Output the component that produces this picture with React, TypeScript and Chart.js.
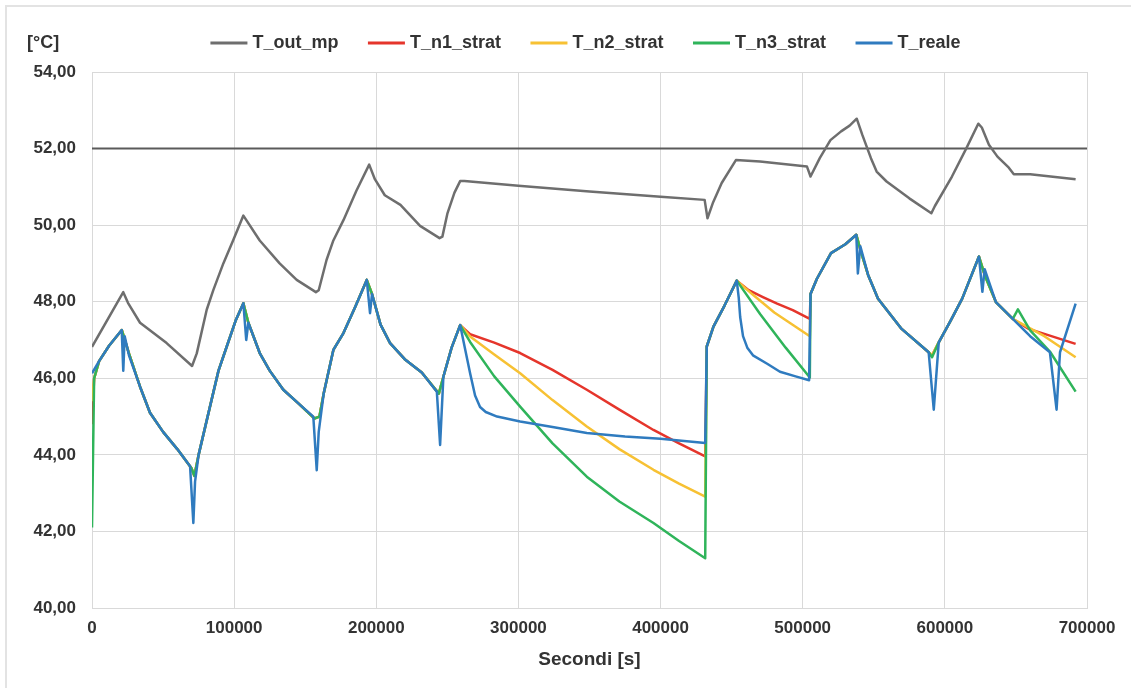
import React, { useEffect, useRef } from "react";
import { Chart, registerables } from "chart.js";

Chart.register(...registerables);

// ---- Data (x in seconds, y in °C) ----
const xTicks = [0, 100000, 200000, 300000, 400000, 500000, 600000, 700000];
const yTicks = [40, 42, 44, 46, 48, 50, 52, 54];
const refLineX = [0, 700000];
const refLineY = [52, 52];

const T_out_mp: [number, number][] = [
  [0, 46.82], [22000, 48.25], [25300, 47.97], [33800, 47.45], [52500, 46.92], [70400, 46.32],
  [73700, 46.65], [80700, 47.79], [85400, 48.31], [92400, 49.0], [99400, 49.61], [106500, 50.25],
  [118000, 49.6], [132000, 49.0], [144000, 48.57], [157500, 48.25], [159500, 48.3], [165000, 49.09],
  [169800, 49.6], [176900, 50.13], [186000, 50.9], [195000, 51.58], [199000, 51.2], [206000, 50.78],
  [217000, 50.53], [230800, 49.98], [244500, 49.66], [246500, 49.7], [250000, 50.3], [255000, 50.85],
  [259000, 51.15], [262000, 51.15], [300000, 51.03], [350000, 50.88], [400000, 50.74], [431000, 50.66],
  [433000, 50.18], [437000, 50.6], [443000, 51.1], [453000, 51.7], [470000, 51.66], [503000, 51.53],
  [505500, 51.27], [512000, 51.75], [519500, 52.22], [527000, 52.45], [533000, 52.6], [538000, 52.78],
  [542000, 52.35], [548000, 51.75], [552000, 51.4], [559000, 51.14], [575000, 50.7], [590500, 50.31],
  [593000, 50.5], [605000, 51.27], [615000, 52.0], [623500, 52.65], [626000, 52.55], [631000, 52.1],
  [637000, 51.79], [645000, 51.5], [648500, 51.33], [660000, 51.33], [692000, 51.2],
];

const T_n1_strat: [number, number][] = [
  [0, 44.8], [1500, 46.0], [5000, 46.45], [12000, 46.85], [21000, 47.26], [26000, 46.65], [33800, 45.78],
  [40800, 45.1], [50000, 44.6], [60000, 44.15], [70000, 43.65], [72000, 43.45], [75000, 44.0], [83000, 45.26],
  [89000, 46.2], [94800, 46.83], [101000, 47.5], [106500, 47.96], [110000, 47.45], [118000, 46.66],
  [125000, 46.2], [134600, 45.7], [145000, 45.35], [156500, 44.95], [160000, 45.0], [163000, 45.6],
  [169800, 46.74], [176900, 47.18], [185000, 47.85], [193300, 48.57], [197000, 48.2], [203000, 47.4],
  [209700, 46.92], [220000, 46.5], [232000, 46.15], [244000, 45.6], [247200, 46.04], [253000, 46.8],
  [259000, 47.39], [266000, 47.15], [283000, 46.93], [301200, 46.66], [324000, 46.22], [348100, 45.7],
  [371000, 45.18], [395000, 44.65], [413000, 44.3], [431400, 43.96],
  [432500, 46.83], [437200, 47.35], [445000, 47.9], [453600, 48.55], [462000, 48.3], [472000, 48.12],
  [482000, 47.95], [493000, 47.78], [505000, 47.55], [505500, 48.2], [510000, 48.6], [519900, 49.27],
  [530000, 49.5], [537700, 49.75], [541000, 49.3], [546000, 48.7], [553000, 48.08], [569600, 47.29],
  [588600, 46.68], [591000, 46.6], [595700, 46.94], [604000, 47.5], [612200, 48.08], [624000, 49.18],
  [628000, 48.7], [635900, 47.99], [647800, 47.55], [659000, 47.29], [692000, 46.9],
];

const T_n2_strat: [number, number][] = [
  [0, 45.4], [1500, 46.0], [5000, 46.45], [12000, 46.85], [21000, 47.26], [26000, 46.65], [33800, 45.78],
  [40800, 45.1], [50000, 44.6], [60000, 44.15], [70000, 43.65], [72000, 43.45], [75000, 44.0], [83000, 45.26],
  [89000, 46.2], [94800, 46.83], [101000, 47.5], [106500, 47.96], [110000, 47.45], [118000, 46.66],
  [125000, 46.2], [134600, 45.7], [145000, 45.35], [156500, 44.95], [160000, 45.0], [163000, 45.6],
  [169800, 46.74], [176900, 47.18], [185000, 47.85], [193300, 48.57], [197000, 48.2], [203000, 47.4],
  [209700, 46.92], [220000, 46.5], [232000, 46.15], [244000, 45.6], [247200, 46.04], [253000, 46.8],
  [259000, 47.39], [266000, 47.09], [283000, 46.62], [301200, 46.13], [324000, 45.43], [348100, 44.74],
  [371000, 44.15], [395000, 43.61], [413000, 43.25], [431400, 42.91],
  [432500, 46.83], [437200, 47.35], [445000, 47.9], [453600, 48.55], [465000, 48.18], [480000, 47.72],
  [505000, 47.1], [505500, 48.2], [510000, 48.6], [519900, 49.27], [530000, 49.5], [537700, 49.75],
  [541000, 49.3], [546000, 48.7], [553000, 48.08], [569600, 47.29], [588600, 46.68], [591000, 46.6],
  [595700, 46.94], [604000, 47.5], [612200, 48.08], [624000, 49.18], [628000, 48.7], [635900, 47.99],
  [647800, 47.55], [670000, 47.1], [692000, 46.55],
];

const T_n3_strat: [number, number][] = [
  [0, 42.1], [1500, 46.0], [5000, 46.45], [12000, 46.85], [21000, 47.26], [26000, 46.65], [33800, 45.78],
  [40800, 45.1], [50000, 44.6], [60000, 44.15], [70000, 43.65], [72000, 43.45], [75000, 44.0], [83000, 45.26],
  [89000, 46.2], [94800, 46.83], [101000, 47.5], [106500, 47.96], [110000, 47.45], [118000, 46.66],
  [125000, 46.2], [134600, 45.7], [145000, 45.35], [156500, 44.95], [160000, 45.0], [163000, 45.6],
  [169800, 46.74], [176900, 47.18], [185000, 47.85], [193300, 48.57], [197000, 48.2], [203000, 47.4],
  [209700, 46.92], [220000, 46.5], [232000, 46.15], [244000, 45.6], [247200, 46.04], [253000, 46.8],
  [259000, 47.39], [266000, 46.95], [283000, 46.05], [301200, 45.26], [324000, 44.3], [348100, 43.43],
  [371000, 42.78], [395000, 42.22], [413000, 41.75], [431400, 41.3],
  [432500, 46.83], [437200, 47.35], [445000, 47.9], [453600, 48.55], [470000, 47.68], [488000, 46.8],
  [505000, 46.02], [505500, 48.2], [510000, 48.6], [519900, 49.27], [530000, 49.5],
  [537700, 49.75], [541000, 49.3], [546000, 48.7], [553000, 48.08], [569600, 47.29], [588600, 46.68],
  [591000, 46.55], [595700, 46.94], [604000, 47.5], [612200, 48.08], [624000, 49.18], [628000, 48.7],
  [635900, 47.99], [647800, 47.55], [651400, 47.8], [660000, 47.25], [673900, 46.7], [692000, 45.65],
];

const T_reale: [number, number][] = [
  [0, 46.13], [5000, 46.45], [12000, 46.85], [20900, 47.26], [22000, 46.2], [23000, 47.1], [26000, 46.6],
  [33800, 45.78], [40800, 45.1], [50000, 44.6], [60000, 44.15], [69000, 43.7], [71300, 42.22], [72500, 43.3],
  [75000, 44.0], [83000, 45.26], [89000, 46.2], [94800, 46.83], [101000, 47.5], [106500, 47.96],
  [108500, 47.0], [110000, 47.45], [118000, 46.66], [125000, 46.2], [134600, 45.7], [145000, 45.35],
  [155700, 45.0], [158100, 43.6], [159500, 44.6], [163000, 45.6], [169800, 46.74], [176900, 47.18],
  [185000, 47.85], [193300, 48.57], [195600, 47.7], [197000, 48.2], [203000, 47.4], [209700, 46.92],
  [220000, 46.5], [232000, 46.15], [242600, 45.65], [244900, 44.26], [247200, 46.04], [253000, 46.8],
  [259000, 47.39], [262000, 46.85], [266000, 46.13], [269500, 45.55], [273000, 45.25], [277000, 45.12],
  [285000, 45.0], [301200, 44.87], [325000, 44.72], [348100, 44.57], [375000, 44.48], [400000, 44.42],
  [431400, 44.31], [432500, 46.83], [437200, 47.35], [445000, 47.9],
  [453600, 48.55], [455000, 48.1], [456000, 47.6], [458000, 47.1], [461000, 46.8], [465000, 46.6],
  [475000, 46.38], [484000, 46.17], [495000, 46.05], [504500, 45.95], [505500, 48.2], [510000, 48.6],
  [519900, 49.27], [530000, 49.5], [537700, 49.75], [538800, 48.74], [540500, 49.45], [546000, 48.7],
  [553000, 48.08], [569600, 47.29], [588600, 46.68], [592200, 45.18], [595700, 46.94], [604000, 47.5],
  [612200, 48.08], [624000, 49.18], [626400, 48.26], [628000, 48.85], [635900, 47.99], [647800, 47.55],
  [660000, 47.1], [673900, 46.68], [678600, 45.18], [681000, 46.68], [692000, 47.95],
];

const FONT = '"Liberation Sans", Arial, sans-serif';
const TEXT = "#333333";

const toPts = (arr: [number, number][]) => arr.map(([x, y]) => ({ x, y }));

const legendPlugin = {
  id: "customLegend",
  afterDraw(chart: any) {
    const { ctx, chartArea } = chart;
    const items = chart.data.datasets.filter((d: any) => !d.hideInLegend);
    ctx.save();
    ctx.font = `bold 18px ${FONT}`;
    ctx.textBaseline = "middle";
    ctx.textAlign = "left";
    const markerW = 37;
    const gap = 5;
    const spacing = 29.5;
    const widths = items.map((d: any) => markerW + gap + ctx.measureText(d.label).width);
    const total = widths.reduce((a: number, b: number) => a + b, 0) + spacing * (items.length - 1);
    const cx = (chartArea.left + chartArea.right) / 2 - 4;
    const y = chartArea.top - 29;
    let x = cx - total / 2;
    items.forEach((d: any, i: number) => {
      ctx.strokeStyle = d.borderColor;
      ctx.lineWidth = 3;
      ctx.beginPath();
      ctx.moveTo(x, y);
      ctx.lineTo(x + markerW, y);
      ctx.stroke();
      ctx.fillStyle = TEXT;
      ctx.fillText(d.label, x + markerW + gap, y);
      x += widths[i] + spacing;
    });
    // unit label
    ctx.fillText("[°C]", chartArea.left - 65, y);
    ctx.restore();
  },
};

export default function App() {
  const canvasRef = useRef<HTMLCanvasElement | null>(null);

  useEffect(() => {
    document.body.style.margin = "0";
    const canvas = canvasRef.current;
    if (!canvas) return;
    const chart = new Chart(canvas, {
      type: "line",
      data: {
        datasets: [
          { label: "T_out_mp", data: toPts(T_out_mp), borderColor: "#6e6e6e", borderWidth: 2.5, order: 4 },
          { label: "T_n1_strat", data: toPts(T_n1_strat), borderColor: "#e5352b", borderWidth: 2.5, order: 3 },
          { label: "T_n2_strat", data: toPts(T_n2_strat), borderColor: "#f7c133", borderWidth: 2.5, order: 2 },
          { label: "T_n3_strat", data: toPts(T_n3_strat), borderColor: "#2fb45a", borderWidth: 2.5, order: 1 },
          { label: "T_reale", data: toPts(T_reale), borderColor: "#2f7bbf", borderWidth: 2.5, order: 0 },
          {
            label: "ref52",
            hideInLegend: true,
            data: refLineX.map((x, i) => ({ x, y: refLineY[i] })),
            borderColor: "#5a5a5a",
            borderWidth: 2,
            order: 5,
          } as any,
        ],
      },
      options: {
        animation: false,
        responsive: true,
        maintainAspectRatio: false,
        elements: {
          point: { radius: 0, hoverRadius: 0 },
          line: { tension: 0, borderJoinStyle: "round", fill: false },
        },
        layout: { padding: { top: 72, right: 44, left: 0, bottom: 0 } },
        plugins: {
          legend: { display: false },
          tooltip: { enabled: false },
        },
        scales: {
          x: {
            type: "linear",
            min: 0,
            max: 700000,
            afterBuildTicks: (scale: any) => {
              scale.ticks = xTicks.map((v) => ({ value: v }));
            },
            afterFit: (scale: any) => {
              scale.height = 80;
            },
            ticks: {
              callback: (v: any) => String(v),
              font: { family: FONT, size: 17, weight: "bold" },
              color: TEXT,
              padding: 10,
              maxRotation: 0,
              autoSkip: false,
            },
            grid: { color: "#d9d9d9", lineWidth: 1, drawTicks: false },
            border: { color: "#d9d9d9" },
            title: {
              display: true,
              text: "Secondi [s]",
              font: { family: FONT, size: 19, weight: "bold" },
              color: TEXT,
              padding: { top: 0, bottom: 17 },
            },
          },
          y: {
            type: "linear",
            min: 40,
            max: 54,
            afterBuildTicks: (scale: any) => {
              scale.ticks = yTicks.map((v) => ({ value: v }));
            },
            afterFit: (scale: any) => {
              scale.width = 92;
            },
            ticks: {
              callback: (v: any) => Number(v).toFixed(2).replace(".", ","),
              font: { family: FONT, size: 17, weight: "bold" },
              color: TEXT,
              padding: 16,
            },
            grid: { color: "#d9d9d9", lineWidth: 1, drawTicks: false },
            border: { color: "#d9d9d9" },
          },
        },
      },
      plugins: [legendPlugin],
    } as any);
    return () => chart.destroy();
  }, []);

  return (
    <div style={{ position: "relative", width: 1131, height: 688, background: "#fff" }}>
      <div
        style={{
          position: "absolute",
          left: 5,
          top: 5,
          right: 0,
          bottom: 0,
          borderLeft: "2px solid #e3e3e3",
          borderTop: "2px solid #e3e3e3",
          pointerEvents: "none",
        }}
      />
      <canvas ref={canvasRef} style={{ position: "absolute", left: 0, top: 0, width: 1131, height: 688 }} />
    </div>
  );
}
